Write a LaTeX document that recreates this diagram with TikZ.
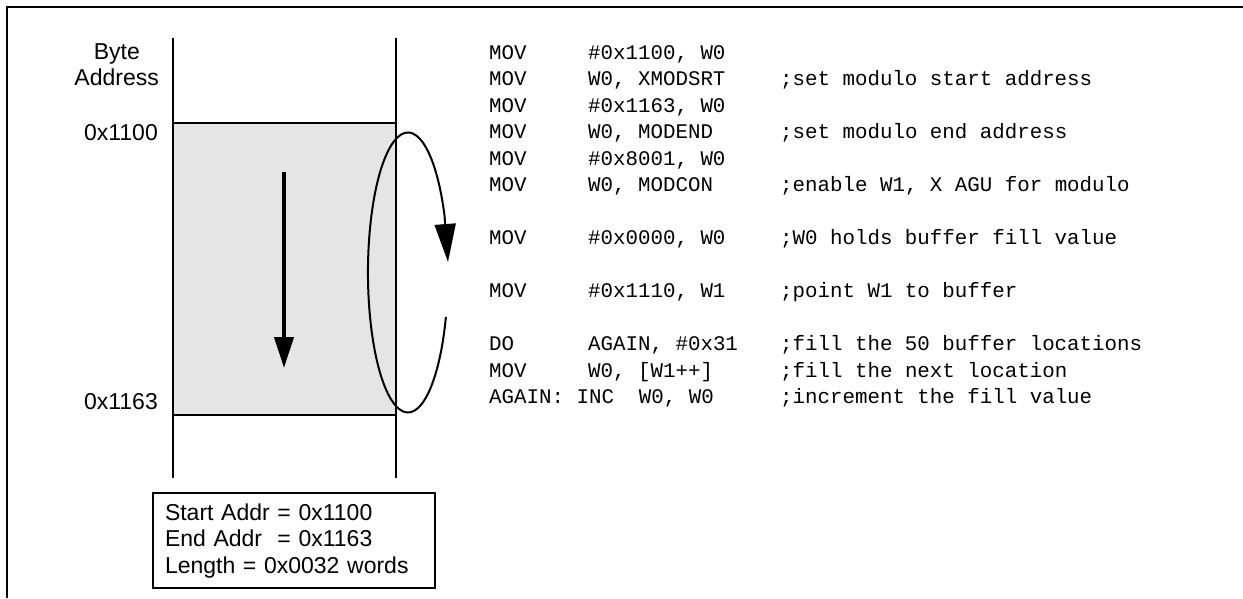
\documentclass[tikz,border=0pt]{standalone}
\usepackage{fontspec}
\setmainfont{Liberation Sans}
\newfontfamily\codefont{Liberation Mono}
\usetikzlibrary{arrows.meta}
\definecolor{memgray}{HTML}{E5E5E5}
\newcommand{\cl}[3]{\makebox[99pt][l]{#1}\makebox[192pt][l]{#2}#3}
\tikzset{
  frameline/.style={line width=2pt},
  memline/.style={line width=1.8pt},
  lbl/.style={font=\fontsize{23}{26.5}\selectfont, inner sep=0pt},
  codetxt/.style={font=\codefont\fontsize{20.8}{26.5}\selectfont, anchor=base west, inner sep=0pt},
  bigarrow/.style={line width=4pt, -{Triangle[length=31pt,width=19pt]}},
  looparrow/.style={line width=2pt, -{Triangle[length=38pt,width=21pt]}},
  infobox/.style={draw, line width=2pt, anchor=north west, inner xsep=12pt, inner ysep=10.5pt,
    text width=258pt, align=left, font=\fontsize{23}{26.5}\selectfont}
}
\begin{document}
\begin{tikzpicture}[x=1pt,y=-1pt]
\useasboundingbox (0,0) rectangle (1243,598);
% frame
\draw[frameline] (7,598) -- (7,7) -- (1243,7);
% memory buffer
\coordinate (bufTL) at (173,123);
\coordinate (bufBR) at (396,415);
\fill[memgray] (bufTL) rectangle (bufBR);
\draw[memline] (173,123) -- (396,123);
\draw[memline] (173,415) -- (396,415);
\draw[memline] (173,38) -- (173,478);
\draw[memline] (396,38) -- (396,478);
% labels
\node[lbl, anchor=base] (byte) at (116.8,59) {Byte};
\node[lbl, anchor=base east] (addr) at (159,85.5) {Address};
\node[lbl, anchor=base east] (a1100) at (158,140) {0x1100};
\node[lbl, anchor=base east] (a1163) at (158,409) {0x1163};
% arrows
\coordinate (vs) at (284,172);
\coordinate (ve) at (284,368);
\draw[bigarrow] (vs) -- (ve);
\coordinate (ls) at (445.9,316.9);
\coordinate (le) at (448,262);
\draw[looparrow] (ls) arc[start angle=-18.5, end angle=-336, x radius=40pt, y radius=140pt] -- (le);
% info box
\node[infobox] (info) at (152,492) {Start Addr = 0x1100\\End Addr\ \ = 0x1163\\Length = 0x0032 words};
% code
\node[codetxt] (c1) at (489,59) {\cl{MOV}{\#0x1100, W0}{}};
\node[codetxt] (c2) at (489,85.5) {\cl{MOV}{W0, XMODSRT}{;set modulo start address}};
\node[codetxt] (c3) at (489,112) {\cl{MOV}{\#0x1163, W0}{}};
\node[codetxt] (c4) at (489,138.5) {\cl{MOV}{W0, MODEND}{;set modulo end address}};
\node[codetxt] (c5) at (489,165) {\cl{MOV}{\#0x8001, W0}{}};
\node[codetxt] (c6) at (489,191.5) {\cl{MOV}{W0, MODCON}{;enable W1, X AGU for modulo}};
\node[codetxt] (c7) at (489,244.5) {\cl{MOV}{\#0x0000, W0}{;W0 holds buffer fill value}};
\node[codetxt] (c8) at (489,297.5) {\cl{MOV}{\#0x1110, W1}{;point W1 to buffer}};
\node[codetxt] (c9) at (489,350.5) {\cl{DO}{AGAIN, \#0x31}{;fill the 50 buffer locations}};
\node[codetxt] (c10) at (489,377) {\cl{MOV}{W0, [W1++]}{;fill the next location}};
\node[codetxt] (c11) at (489,403.5) {\makebox[291pt][l]{AGAIN: INC\ \ W0, W0};increment the fill value};
\end{tikzpicture}
\end{document}
